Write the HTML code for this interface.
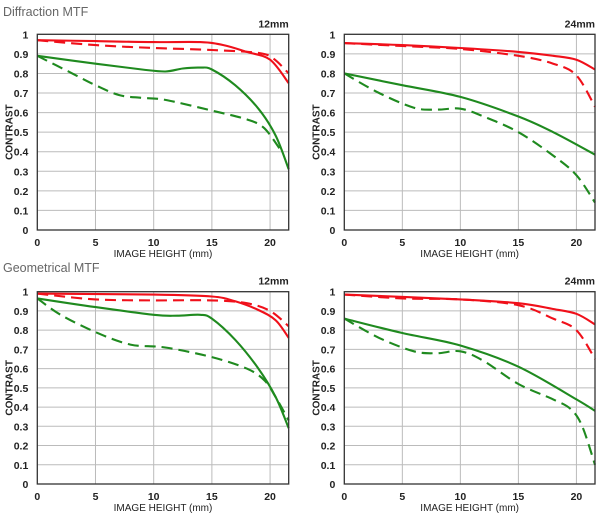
<!DOCTYPE html>
<html><head><meta charset="utf-8"><style>
html,body{margin:0;padding:0;background:#fff;width:600px;height:519px;overflow:hidden}
svg{display:block;font-family:"Liberation Sans",sans-serif}
</style></head><body>
<svg id="s" width="600" height="519" viewBox="0 0 600 519" xmlns="http://www.w3.org/2000/svg">
<text x="3" y="16" font-size="12.5" fill="#666">Diffraction MTF</text>
<text x="3" y="272" font-size="12.5" fill="#666">Geometrical MTF</text>
</svg>
<script>
const s=document.getElementById('s');const NS='http://www.w3.org/2000/svg';
function el(t,a,txt){const e=document.createElementNS(NS,t);for(const k in a)e.setAttribute(k,a[k]);if(txt!=null)e.textContent=txt;s.appendChild(e);return e;}
function spline(p){let d='M'+p[0][0].toFixed(1)+','+p[0][1].toFixed(1);for(let i=0;i<p.length-1;i++){const p0=p[i-1]||p[i],p1=p[i],p2=p[i+1],p3=p[i+2]||p2;const c1=[p1[0]+(p2[0]-p0[0])/6,p1[1]+(p2[1]-p0[1])/6],c2=[p2[0]-(p3[0]-p1[0])/6,p2[1]-(p3[1]-p1[1])/6];d+='C'+c1.map(v=>v.toFixed(1))+' '+c2.map(v=>v.toFixed(1))+' '+p2[0].toFixed(1)+','+p2[1].toFixed(1);}return d;}
function chart(x0,xr,y1,y0,label,series){
 const sx=(xr-x0)/21.6,sy=(y0-y1);
 const X=v=>x0+v*sx,Y=v=>y0-v*sy;
 for(let i=1;i<10;i++)el('line',{x1:x0,x2:xr,y1:Y(i/10),y2:Y(i/10),stroke:'#bbb','stroke-width':1});
 for(let i=5;i<=20;i+=5)el('line',{x1:X(i),x2:X(i),y1:y1,y2:y0,stroke:'#bbb','stroke-width':1});
 for(let i=0;i<=10;i++)el('text',{x:x0-9,y:Y(i/10)+4,'font-size':10.5,'font-weight':'bold','text-anchor':'end',fill:'#222'},i==0?'0':i==10?'1':'0.'+i);
 for(let i=0;i<=20;i+=5)el('text',{x:X(i),y:y0+16,'font-size':10.5,'font-weight':'bold','text-anchor':'middle',fill:'#222'},i);
 el('text',{x:(x0+xr)/2,y:y0+27,'font-size':10,'text-anchor':'middle',fill:'#222'},'IMAGE HEIGHT (mm)');
 const cy=(y0+y1)/2;el('text',{x:x0-25,y:cy,'font-size':10,'font-weight':'bold','text-anchor':'middle',fill:'#222',transform:`rotate(-90 ${x0-25} ${cy})`},'CONTRAST');
 el('text',{x:xr,y:y1-7,'font-size':10.5,'font-weight':'bold','text-anchor':'end',fill:'#222'},label);
 for(const [c,dash,pts] of series){el('path',{d:spline(pts.map(p=>[X(p[0]),Y(p[1])])),fill:'none',stroke:c,'stroke-width':2.1,'stroke-dasharray':dash?'11,6':'none'});}
 el('rect',{x:x0,y:y1,width:xr-x0,height:y0-y1,fill:'none',stroke:'#333','stroke-width':1.3});
}
const R='#f0101a',G='#1f8a1f';
chart(37.3,288.7,34.3,230,'12mm',[
 [R,0,[[0,.97],[5,.965],[10,.96],[14,.96],[16,.945],[18,.91],[20,.87],[21.6,.75]]],
 [R,1,[[0,.97],[5,.945],[10,.93],[15,.92],[19,.905],[20.3,.875],[21.6,.80]]],
 [G,0,[[0,.89],[5,.85],[9,.82],[11,.81],[12.5,.825],[14,.83],[15,.82],[17,.74],[19,.62],[20.5,.48],[21.6,.31]]],
 [G,1,[[0,.89],[3,.80],[5,.74],[7,.69],[9,.675],[11,.665],[15,.61],[18,.565],[19.5,.52],[21,.40]]]]);
chart(344.3,595,34.3,230,'24mm',[
 [R,0,[[0,.955],[5,.945],[10,.93],[15,.91],[18,.89],[20,.87],[21.6,.82]]],
 [R,1,[[0,.955],[5,.94],[10,.925],[15,.89],[18,.85],[20,.79],[21.6,.63]]],
 [G,0,[[0,.80],[5,.74],[10,.68],[15,.58],[18,.50],[21.6,.385]]],
 [G,1,[[0,.80],[3,.70],[6,.625],[8,.615],[10,.62],[12,.58],[15,.50],[18,.38],[20,.28],[21.6,.14]]]]);
chart(37.3,288.7,291.7,484,'12mm',[
 [R,0,[[0,.99],[10,.985],[15,.975],[17,.95],[19,.905],[20.5,.85],[21.6,.76]]],
 [R,1,[[0,.99],[5,.96],[10,.955],[15,.955],[18,.94],[20,.9],[21.6,.82]]],
 [G,0,[[0,.965],[5,.92],[10,.88],[12,.875],[14,.88],[15,.86],[17,.75],[19,.6],[20.5,.45],[21.6,.29]]],
 [G,1,[[0,.965],[2,.88],[5,.79],[8,.725],[11,.71],[15,.66],[18,.6],[19.5,.54],[20.5,.45],[21.6,.33]]]]);
chart(344.3,595,291.7,484,'24mm',[
 [R,0,[[0,.985],[10,.96],[15,.94],[18,.91],[20,.885],[21.6,.83]]],
 [R,1,[[0,.985],[5,.965],[10,.96],[15,.93],[18,.86],[20,.80],[21.6,.65]]],
 [G,0,[[0,.86],[5,.785],[10,.72],[15,.61],[20,.44],[21.6,.38]]],
 [G,1,[[0,.86],[3,.76],[6,.69],[8,.68],[10,.69],[12,.64],[15,.52],[18,.44],[19.5,.39],[20.5,.30],[21.6,.10]]]]);
</script>
</body></html>
